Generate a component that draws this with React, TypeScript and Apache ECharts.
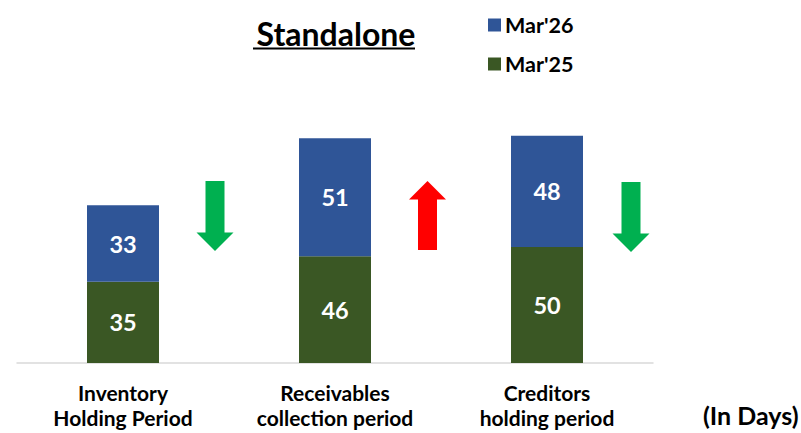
import React, { useEffect, useRef } from "react";
import * as echarts from "echarts";

const categories = ["Inventory\nHolding Period", "Receivables\ncollection period", "Creditors\nholding period"];
const mar25 = [35, 46, 50];
const mar26 = [33, 51, 48];
const seriesNames = ["Mar'25", "Mar'26"];

const FONT = "Lato, 'Open Sans', sans-serif";

function downArrow(cx: number, top: number, bottom: number, color: string) {
  const sw = 9.5, hw = 18.5, headY = bottom - 18.5;
  return {
    type: "polygon",
    shape: {
      points: [
        [cx - sw, top], [cx + sw, top], [cx + sw, headY], [cx + hw, headY],
        [cx, bottom], [cx - hw, headY], [cx - sw, headY],
      ],
    },
    style: { fill: color },
    silent: true,
  };
}

function upArrow(cx: number, top: number, bottom: number, color: string) {
  const sw = 9.5, hw = 18.5, headY = top + 18.5;
  return {
    type: "polygon",
    shape: {
      points: [
        [cx, top], [cx + hw, headY], [cx + sw, headY], [cx + sw, bottom],
        [cx - sw, bottom], [cx - sw, headY], [cx - hw, headY],
      ],
    },
    style: { fill: color },
    silent: true,
  };
}

export default function App() {
  const ref = useRef<HTMLDivElement>(null);
  useEffect(() => {
    if (!ref.current) return;
    const chart = echarts.init(ref.current, null, { renderer: "svg" });
    const labelStyle = {
      show: true,
      position: "inside",
      color: "#ffffff",
      fontWeight: "bold",
      fontSize: 23.5,
      fontFamily: FONT,
    };
    chart.setOption({
      animation: false,
      backgroundColor: "#ffffff",
      title: {
        text: "Standalone",
        left: 331,
        top: 12,
        textAlign: "center",
        textStyle: { fontSize: 32, fontWeight: "bold", color: "#000", fontFamily: FONT },
      },
      legend: {
        orient: "vertical",
        left: 483,
        top: 9,
        itemWidth: 13,
        itemHeight: 13,
        itemGap: 17,
        icon: "rect",
        data: ["Mar'26", "Mar'25"],
        textStyle: { fontSize: 21.5, fontWeight: "bold", color: "#000", fontFamily: FONT, lineHeight: 20, padding: [0, 0, 0, -1] },
      },
      grid: { left: 17, right: 148, top: 108, bottom: 70, containLabel: false },
      xAxis: {
        type: "category",
        data: categories,
        axisLine: { lineStyle: { color: "#d9d9d9", width: 1.5 } },
        axisTick: { show: false },
        axisLabel: {
          color: "#000",
          fontSize: 21,
          fontWeight: "bold",
          fontFamily: FONT,
          lineHeight: 25,
          margin: 17,
          interval: 0,
        },
      },
      yAxis: {
        type: "value",
        min: 0,
        max: 110,
        show: false,
        splitLine: { show: false },
      },
      series: [
        {
          name: seriesNames[0],
          type: "bar",
          stack: "t",
          data: mar25,
          barWidth: 72,
          itemStyle: { color: "#3A5724" },
          label: labelStyle,
        },
        {
          name: seriesNames[1],
          type: "bar",
          stack: "t",
          data: mar26,
          barWidth: 72,
          itemStyle: { color: "#2F5597" },
          label: labelStyle,
        },
      ],
      graphic: [
        { type: "line", shape: { x1: 253, y1: 48.5, x2: 415, y2: 48.5 }, style: { stroke: "#000", lineWidth: 2 }, silent: true },
        downArrow(215, 181, 251, "#00B050"),
        upArrow(427.5, 181, 250, "#FF0000"),
        downArrow(631, 182, 252, "#00B050"),
        {
          type: "text",
          left: 703,
          top: 402,
          style: { text: "(In Days)", fontSize: 25, fontWeight: "bold", fill: "#000", fontFamily: FONT },
        },
      ],
    });
    return () => chart.dispose();
  }, []);
  return <div ref={ref} style={{ width: 801, height: 433, position: "absolute", left: 0, top: 0 }} />;
}
